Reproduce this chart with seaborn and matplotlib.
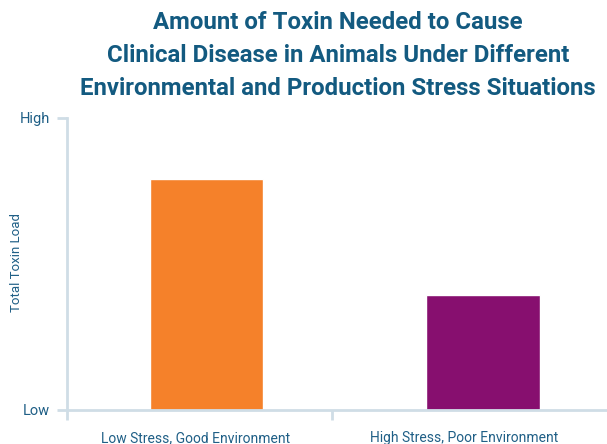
import matplotlib
matplotlib.use('Agg')
import matplotlib.pyplot as plt
import matplotlib.transforms as mtransforms
import seaborn as sns

categories = ['Low Stress, Good Environment', 'High Stress, Poor Environment']
toxin_load = [0.79, 0.395]
bar_colors = ['#F5812A', '#870F6F']
y_tick_labels = ['Low', 'High']

sns.set_style('white')
plt.rcParams['font.family'] = ['Roboto', 'DejaVu Sans']

text_col = '#1F5F86'
axis_col = '#CFDDE6'

fig = plt.figure(figsize=(6.07, 4.44), dpi=100)
ax = fig.add_axes([0.110, 0.0766, 0.890, 0.6577])

sns.barplot(x=categories, y=toxin_load, hue=categories, palette=bar_colors,
            width=0.41, saturation=1, legend=False, ax=ax)

ax.set_xlim(-0.505, 1.448)
ax.set_ylim(0, 1)
ax.set_yticks([0, 1])
ax.set_yticklabels(y_tick_labels, fontsize=10.5, color=text_col)
ax.set_xticks([0, 1])
ax.set_xticklabels(categories, fontsize=10, color=text_col)
ax.set_xticks([-0.505, 0.455], minor=True)
ax.tick_params(axis='x', which='major', bottom=True, length=0, pad=15)
ax.tick_params(axis='x', which='minor', bottom=True, length=7, width=2, color=axis_col)
ax.tick_params(axis='y', left=True, length=7, width=2, color=axis_col, pad=5)
for lbl, dx in zip(ax.get_xticklabels(), [-11, -19]):
    lbl.set_transform(lbl.get_transform() + mtransforms.ScaledTranslation(dx / 100, 0, fig.dpi_scale_trans))

for side in ['top', 'right']:
    ax.spines[side].set_visible(False)
for side in ['left', 'bottom']:
    ax.spines[side].set_color(axis_col)
    ax.spines[side].set_linewidth(2)

ax.set_ylabel('')
fig.text(17 / 607, 1 - 262 / 444, 'Total Toxin Load', rotation=90, ha='center', va='center',
         fontsize=9.5, color=text_col)

fig.text(0.557, 0.975, 'Amount of Toxin Needed to Cause\nClinical Disease in Animals Under Different\nEnvironmental and Production Stress Situations',
         ha='center', va='top', fontsize=17.3, fontweight='bold', color='#135A80', linespacing=1.55)

fig.savefig('out.png', dpi=100)
